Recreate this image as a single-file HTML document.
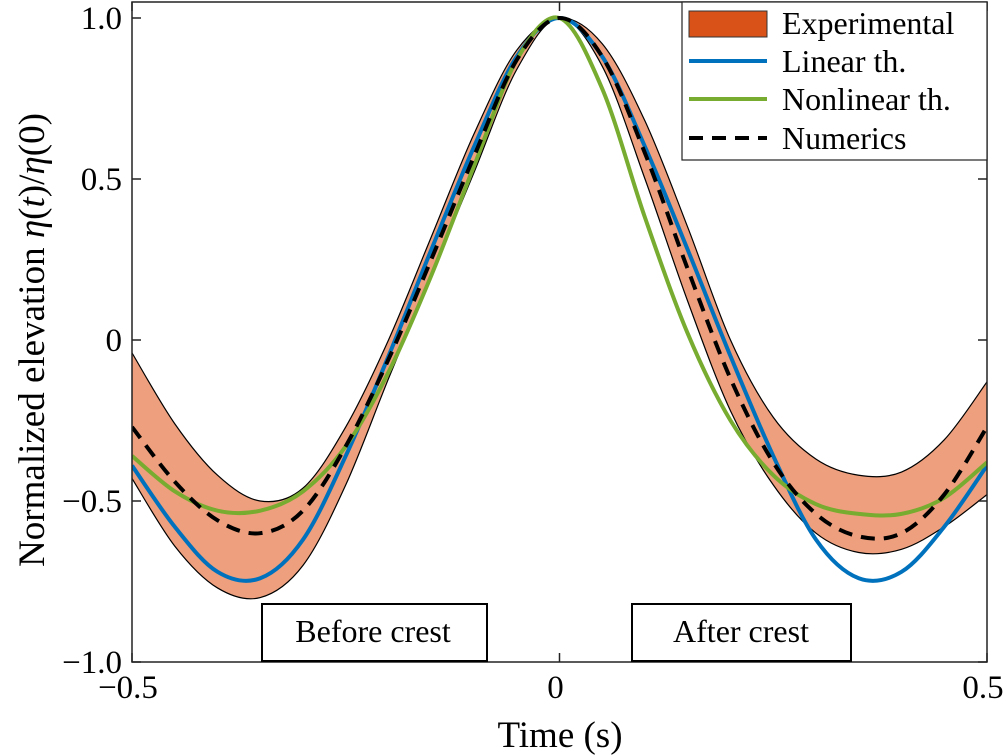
<!DOCTYPE html>
<html><head><meta charset="utf-8"><style>
body{margin:0;background:#fff}
svg{display:block;font-family:"Liberation Serif",serif}
</style></head><body>
<svg id="c" width="1007" height="755" viewBox="0 0 1007 755"></svg>
<script>
const times=[-0.5,-0.45,-0.4,-0.35,-0.3,-0.25,-0.2,-0.15,-0.1,-0.05,0,0.05,0.1,0.15,0.2,0.25,0.3,0.35,0.4,0.45,0.5];
const linearTh=[-0.39,-0.58,-0.72,-0.74,-0.62,-0.36,-0.05,0.28,0.6,0.88,1.0,0.88,0.6,0.28,-0.05,-0.36,-0.62,-0.74,-0.72,-0.58,-0.39];
const nonlinearTh=[-0.36,-0.47,-0.53,-0.53,-0.47,-0.33,-0.1,0.2,0.54,0.87,1.0,0.78,0.38,0.02,-0.25,-0.42,-0.51,-0.54,-0.54,-0.49,-0.38];
const numerics=[-0.27,-0.44,-0.56,-0.6,-0.53,-0.33,-0.06,0.25,0.57,0.87,1.0,0.88,0.58,0.22,-0.12,-0.38,-0.54,-0.61,-0.6,-0.48,-0.27];
const expUpper=[-0.04,-0.26,-0.42,-0.5,-0.46,-0.27,0.0,0.32,0.64,0.9,1.0,0.92,0.68,0.35,0.0,-0.24,-0.37,-0.42,-0.41,-0.31,-0.13];
const expLower=[-0.43,-0.64,-0.77,-0.8,-0.7,-0.45,-0.12,0.2,0.52,0.84,1.0,0.85,0.5,0.12,-0.22,-0.45,-0.6,-0.66,-0.65,-0.58,-0.48];
const xTicks=[-0.5,0,0.5], xTickLabels=["\u22120.5","0","0.5"];
const yTicks=[-1,-0.5,0,0.5,1], yTickLabels=["\u22121.0","\u22120.5","0","0.5","1.0"];

const X0=132,X1=987,Ytop=2,Ybot=662;
const sx=t=>X0+(t+0.5)*(X1-X0);
const sy=v=>340-v*322;
const NS="http://www.w3.org/2000/svg";
const svg=document.getElementById('c');
function mk(tag,attrs,parent){const e=document.createElementNS(NS,tag);for(const k in attrs)e.setAttribute(k,attrs[k]);(parent||svg).appendChild(e);return e;}
function pts(vals){return times.map((t,i)=>[sx(t),sy(vals[i])]);}
function crPath(p,move){let d=move?`M${p[0][0]},${p[0][1]}`:`L${p[0][0]},${p[0][1]}`;
 for(let i=0;i<p.length-1;i++){const a=p[Math.max(0,i-1)],b=p[i],c=p[i+1],e=p[Math.min(p.length-1,i+2)];
  d+=` C${b[0]+(c[0]-a[0])/6},${b[1]+(c[1]-a[1])/6} ${c[0]-(e[0]-b[0])/6},${c[1]-(e[1]-b[1])/6} ${c[0]},${c[1]}`;}
 return d;}
const clip=mk('clipPath',{id:'pc'});mk('rect',{x:X0,y:Ytop,width:X1-X0,height:Ybot-Ytop},clip);
const g=mk('g',{'clip-path':'url(#pc)'});
const up=pts(expUpper),lo=pts(expLower).reverse();
let band=mk('path',{d:crPath(up,true)+' '+crPath(lo,false)+' Z',fill:'#ee9f7d',stroke:'none'},g);

let eu=mk('path',{d:crPath(up,true),fill:'none',stroke:'#000','stroke-width':1.2},g);

let el=mk('path',{d:crPath(pts(expLower),true),fill:'none',stroke:'#000','stroke-width':1.2},g);

let ln=mk('path',{d:crPath(pts(linearTh),true),fill:'none',stroke:'#0072bd','stroke-width':4},g);

let nl=mk('path',{d:crPath(pts(nonlinearTh),true),fill:'none',stroke:'#77ac30','stroke-width':4},g);

let nu=mk('path',{d:crPath(pts(numerics),true),fill:'none',stroke:'#000','stroke-width':4,'stroke-dasharray':'14 9'},g);

let ax=mk('rect',{x:X0,y:Ytop,width:X1-X0,height:Ybot-Ytop,fill:'none',stroke:'#222','stroke-width':1.5});

xTicks.forEach((t,i)=>{const x=sx(t);
 mk('line',{x1:x,y1:Ybot,x2:x,y2:Ybot-9,stroke:'#222','stroke-width':1.5});
 mk('line',{x1:x,y1:Ytop,x2:x,y2:Ytop+9,stroke:'#222','stroke-width':1.5});
 let tx=mk('text',{x:x-4,y:698,'text-anchor':'middle','font-size':33});tx.textContent=xTickLabels[i];
 });
yTicks.forEach((v,i)=>{const y=sy(v);
 mk('line',{x1:X0,y1:y,x2:X0+9,y2:y,stroke:'#222','stroke-width':1.5});
 mk('line',{x1:X1,y1:y,x2:X1-9,y2:y,stroke:'#222','stroke-width':1.5});
 let tx=mk('text',{x:X0-10,y:y+11,'text-anchor':'end','font-size':33});tx.textContent=yTickLabels[i];
 });
</script>
<svg width="1007" height="755" style="position:absolute;left:0;top:0" font-family="Liberation Serif, serif">
<text x="560" y="747" text-anchor="middle" font-size="37">Time (s)</text>
<text transform="translate(44,340) rotate(-90)" text-anchor="middle" font-size="37">Normalized elevation <tspan font-style="italic">η</tspan>(<tspan font-style="italic">t</tspan>)/<tspan font-style="italic">η</tspan>(0)</text>
<g><rect x="262" y="604" width="225" height="57" fill="#fff" stroke="#000" stroke-width="2"/><text x="373" y="642" text-anchor="middle" font-size="32">Before crest</text></g>
<g><rect x="632" y="604" width="219" height="57" fill="#fff" stroke="#000" stroke-width="2"/><text x="741" y="642" text-anchor="middle" font-size="32">After crest</text></g>
<g>
<rect x="682" y="2" width="305" height="158" fill="#fff" stroke="#222" stroke-width="1.2"/>
<g><rect x="689" y="11" width="78" height="26" fill="#d95319" stroke="#333" stroke-width="1"/><text x="782" y="34" font-size="32">Experimental</text></g>
<g><line x1="689" y1="61" x2="767" y2="61" stroke="#0072bd" stroke-width="4"/><text x="782" y="72" font-size="32">Linear th.</text></g>
<g><line x1="689" y1="99" x2="767" y2="99" stroke="#77ac30" stroke-width="4"/><text x="782" y="110" font-size="32">Nonlinear th.</text></g>
<g><line x1="689" y1="138" x2="767" y2="138" stroke="#000" stroke-width="4" stroke-dasharray="14 9"/><text x="782" y="149" font-size="32">Numerics</text></g>
</g>
</svg>
</body></html>
